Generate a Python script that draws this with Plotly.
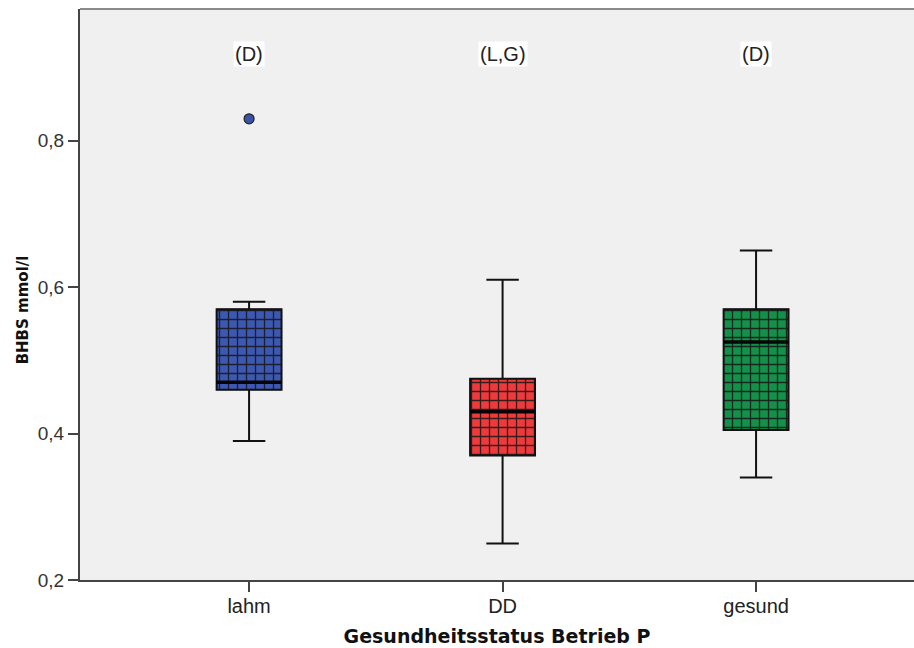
import plotly.graph_objects as go

# Groups and box statistics (BHBS, mmol/l)
categories = ["lahm", "DD", "gesund"]
lower_whisker = [0.39, 0.25, 0.34]
q1 = [0.46, 0.37, 0.405]
median = [0.47, 0.43, 0.525]
q3 = [0.57, 0.475, 0.57]
upper_whisker = [0.58, 0.61, 0.65]

# Outlier values
outlier_cat = ["lahm"]
outlier_val = [0.83]

# Significance letters above each group
sig_labels = ["(D)", "(L,G)", "(D)"]
sig_y = 0.919

# Axis ticks
y_tickvals = [0.2, 0.4, 0.6, 0.8]
y_ticktext = ["0,2", "0,4", "0,6", "0,8"]

box_colors = ["#3c58b2", "#ef3a3c", "#13904a"]
box_width = 0.256

fig = go.Figure()

# Patterned box bodies (q1 -> q3), one trace per group
for cat, lo, hi, col in zip(categories, q1, q3, box_colors):
    fig.add_trace(go.Bar(
        x=[cat],
        y=[hi - lo],
        base=[lo],
        width=box_width,
        marker=dict(
            color=col,
            line=dict(color="#555555", width=1),
            pattern=dict(shape="+", size=9, solidity=0.28,
                         fgcolor="#161616", fgopacity=0.85,
                         fillmode="overlay"),
        ),
        hoverinfo="skip",
        showlegend=False,
    ))

# Whiskers, caps and box outlines
fig.add_trace(go.Box(
    x=categories,
    q1=q1,
    median=median,
    q3=q3,
    lowerfence=lower_whisker,
    upperfence=upper_whisker,
    width=box_width,
    whiskerwidth=0.5,
    fillcolor="rgba(0,0,0,0)",
    line=dict(color="#111111", width=2),
    boxpoints=False,
    hoverinfo="skip",
    showlegend=False,
))

# Heavier median bars (collapsed boxes at the median)
fig.add_trace(go.Box(
    x=categories,
    q1=median,
    median=median,
    q3=median,
    lowerfence=median,
    upperfence=median,
    width=box_width,
    whiskerwidth=0,
    fillcolor="rgba(0,0,0,0)",
    line=dict(color="#050505", width=3.5),
    boxpoints=False,
    hoverinfo="skip",
    showlegend=False,
))

# Outlier point
fig.add_trace(go.Scatter(
    x=outlier_cat,
    y=outlier_val,
    mode="markers",
    marker=dict(size=10, color="#3953a6", line=dict(color="#222222", width=1.2)),
    hoverinfo="skip",
    showlegend=False,
))

for cat, lab in zip(categories, sig_labels):
    fig.add_annotation(
        x=cat, y=sig_y, text=lab, showarrow=False,
        font=dict(family="Liberation Sans, Arial", size=20, color="#222222"),
        bgcolor="white", borderpad=1,
    )

# Y axis title
fig.add_annotation(
    xref="paper", yref="paper", x=-0.069, y=0.473,
    xanchor="center", yanchor="middle",
    text="<b>BHBS mmol/l</b>", textangle=-90, showarrow=False,
    font=dict(family="DejaVu Sans", size=15, color="#111111"),
)

# Top frame line of the plot area
fig.add_shape(type="line", xref="x domain", yref="y domain",
              x0=0, x1=1, y0=1, y1=1,
              line=dict(color="#8a8a8a", width=2))

fig.update_layout(
    width=914,
    height=648,
    margin=dict(l=80, r=0, t=9, b=68),
    paper_bgcolor="white",
    plot_bgcolor="#f0f0f0",
    font=dict(family="Liberation Sans, Arial", size=19, color="#222222"),
    showlegend=False,
    barmode="overlay",
    boxmode="overlay",
)

fig.update_xaxes(
    type="category",
    categoryorder="array",
    categoryarray=categories,
    range=[-0.667, 2.623],
    showgrid=False,
    zeroline=False,
    showline=True,
    linecolor="#444444",
    linewidth=2,
    ticks="outside",
    ticklen=10,
    tickwidth=2,
    tickcolor="#444444",
    ticklabelstandoff=-3,
    tickfont=dict(family="Liberation Sans, Arial", size=20, color="#222222"),
    title=dict(text="<b>Gesundheitsstatus Betrieb P</b>",
               font=dict(family="DejaVu Sans", size=19, color="#111111"),
               standoff=14),
)

fig.update_yaxes(
    range=[0.2, 0.98],
    tickvals=y_tickvals,
    ticktext=y_ticktext,
    showgrid=False,
    zeroline=False,
    showline=True,
    linecolor="#444444",
    linewidth=2,
    ticks="outside",
    ticklen=10,
    tickwidth=2,
    tickcolor="#444444",
    tickfont=dict(family="Liberation Sans, Arial", size=19, color="#333333"),
)

fig.write_html("out.html")
